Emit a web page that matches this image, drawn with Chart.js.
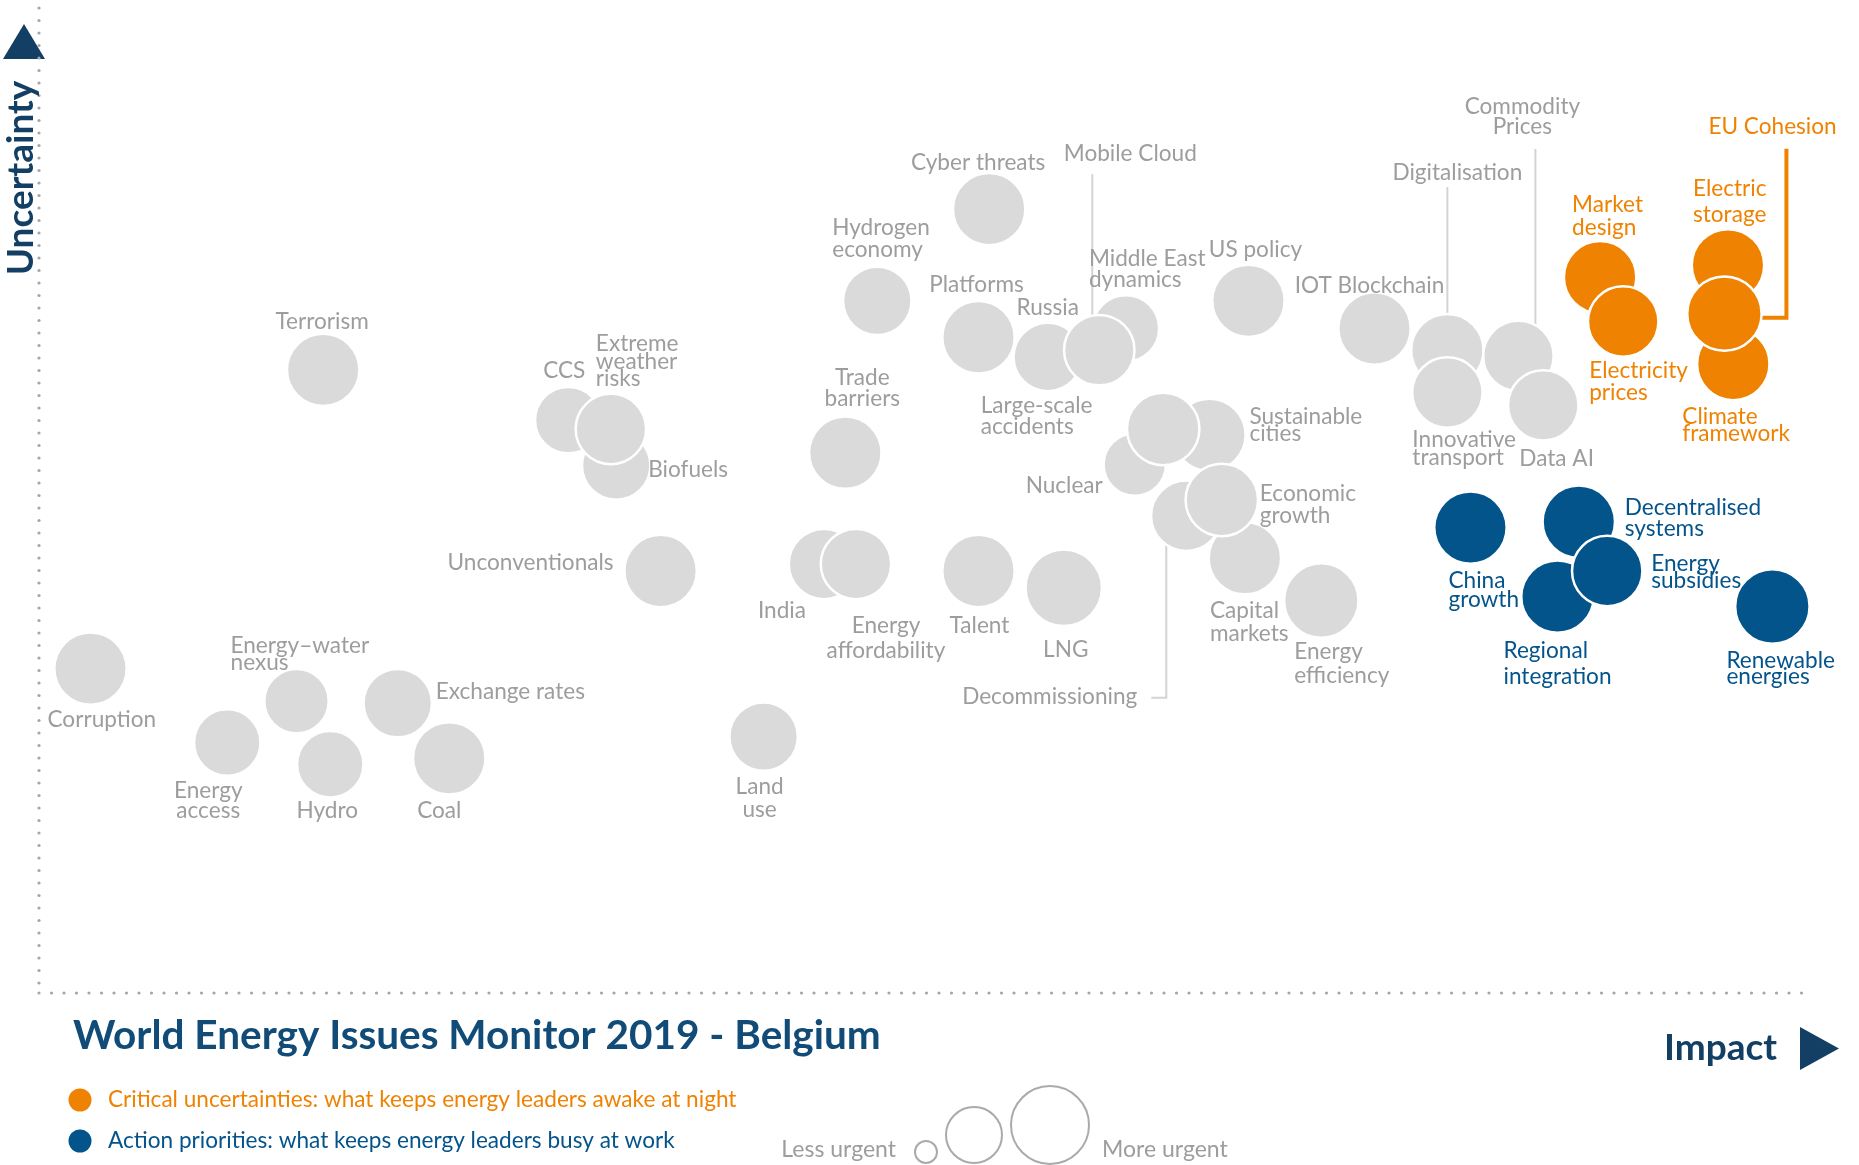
<!DOCTYPE html>
<html>
<head>
<meta charset="utf-8">
<script src="https://cdn.jsdelivr.net/npm/chart.js@4/dist/chart.umd.min.js"></script>
<style>
  html, body { margin: 0; padding: 0; background: #fff; overflow: hidden; }
  canvas { display: block; }
</style>
</head>
<body>
<canvas id="chart" width="1859" height="1165"></canvas>
<script>
// issues of the monitor, x = impact, y = uncertainty, size = urgency
const gray_issues = ['Corruption', 'Energy\naccess', 'Energy–water\nnexus', 'Hydro', 'Exchange rates', 'Coal',
    'Terrorism', 'CCS', 'Biofuels', 'Extreme\nweather\nrisks', 'Unconventionals', 'Land\nuse', 'India',
    'Energy\naffordability', 'Trade\nbarriers', 'Hydrogen\neconomy', 'Cyber threats', 'Talent', 'LNG',
    'Platforms', 'Russia', 'Large-scale\naccidents', 'Middle East\ndynamics', 'Mobile Cloud', 'US policy',
    'IOT Blockchain', 'Nuclear', 'Sustainable\ncities', '', 'Decommissioning', 'Capital\nmarkets',
    'Economic\ngrowth', 'Energy\nefficiency', 'Digitalisation', 'Innovative\ntransport', 'Commodity\nPrices',
    'Data AI'];
const gray_impact = [2.9, 10.6, 14.5, 16.4, 20.2, 23.1, 16.0, 29.8, 32.5, 32.2, 35.0, 40.8, 44.2, 46.0, 45.4,
    47.2, 53.5, 52.9, 57.7, 52.9, 56.8, 56.8, 61.2, 59.7, 68.1, 75.2, 61.7, 65.9, 63.3, 64.6, 67.9, 66.6, 72.2,
    79.3, 79.3, 83.3, 84.7];
const gray_uncertainty = [32.9, 25.4, 29.6, 23.2, 29.4, 23.8, 63.2, 58.1, 53.5, 57.2, 42.8, 26.0, 43.5, 43.5,
    54.8, 70.2, 79.5, 42.8, 41.1, 66.5, 64.5, 64.5, 67.4, 65.2, 70.2, 67.4, 53.6, 56.6, 57.2, 48.4, 44.1, 50.0,
    39.8, 65.2, 60.9, 64.6, 59.6];
const gray_urgency = [3.5, 3.2, 3.1, 3.2, 3.3, 3.5, 3.5, 3.2, 3.3, 3.4, 3.5, 3.3, 3.4, 3.4, 3.5, 3.3, 3.5, 3.5,
    3.7, 3.5, 3.3, 3.3, 3.2, 3.4, 3.5, 3.5, 3.0, 3.5, 3.5, 3.4, 3.5, 3.5, 3.6, 3.5, 3.4, 3.4, 3.4];

const critical_issues = ['Market\ndesign', 'Electricity\nprices', 'Electric\nstorage', 'Climate\nframework', 'EU Cohesion'];
const critical_impact = [87.9, 89.2, 95.1, 95.4, 94.9];
const critical_uncertainty = [72.6, 68.1, 73.8, 63.8, 68.9];
const critical_urgency = [3.5, 3.4, 3.5, 3.5, 3.6];

const action_issues = ['China\ngrowth', 'Decentralised\nsystems', 'Regional\nintegration', 'Energy\nsubsidies', 'Renewable\nenergies'];
const action_impact = [80.6, 86.7, 85.5, 88.3, 97.6];
const action_uncertainty = [47.2, 47.8, 40.2, 42.8, 39.2];
const action_urgency = [3.5, 3.5, 3.5, 3.4, 3.6];

const title_text = 'World Energy Issues Monitor 2019 - Belgium';
const legend_critical = 'Critical uncertainties: what keeps energy leaders awake at night';
const legend_action = 'Action priorities: what keeps energy leaders busy at work';

const GRAY = '#dadada';
const GRAY_TEXT = '#9d9d9d';
const ORANGE = '#ef8200';
const BLUE = '#04548c';
const NAVY = '#123f63';
const FONT = 'Lato, "Open Sans", sans-serif';

// label placement: [dx, dy, align, line height] from the bubble centre
const label_pos = {
    'Corruption': [-43, 51, 'left'],
    'Energy\naccess': [-19, 48, 'center', 20],
    'Energy–water\nnexus': [-66, -55, 'left', 17],
    'Hydro': [-3, 46, 'center'],
    'Exchange rates': [38, -11, 'left'],
    'Coal': [-10, 52, 'center'],
    'Terrorism': [-1, -48, 'center'],
    'CCS': [-4, -49, 'center'],
    'Biofuels': [32, 4, 'left'],
    'Extreme\nweather\nrisks': [-15, -85, 'left', 17.5],
    'Unconventionals': [-47, -8, 'right'],
    'Land\nuse': [-4, 50, 'center', 23],
    'India': [-42, 47, 'center'],
    'Energy\naffordability': [30, 62, 'center', 25],
    'Trade\nbarriers': [17, -75, 'center', 21],
    'Hydrogen\neconomy': [-45, -73, 'left', 22],
    'Cyber threats': [-11, -46, 'center'],
    'Talent': [1, 55, 'center'],
    'LNG': [2, 62, 'center'],
    'Platforms': [-2, -53, 'center'],
    'Russia': [0, -49, 'center'],
    'Large-scale\naccidents': [-67, 49, 'left', 21],
    'Middle East\ndynamics': [-37, -70, 'left', 21],
    'Mobile Cloud': [31, -196, 'center'],
    'US policy': [7, -51, 'center'],
    'IOT Blockchain': [-5, -43, 'center'],
    'Nuclear': [-32, 21, 'right'],
    'Sustainable\ncities': [40, -18, 'left', 17],
    'Decommissioning': [-49, 181, 'right'],
    'Capital\nmarkets': [-35, 53, 'left', 23],
    'Economic\ngrowth': [38, -6, 'left', 22],
    'Energy\nefficiency': [-27, 51, 'left', 24],
    'Digitalisation': [10, -177, 'center'],
    'Innovative\ntransport': [-35, 47, 'left', 18],
    'Commodity\nPrices': [4, -249, 'center', 20],
    'Data AI': [-24, 53, 'left'],
    'Market\ndesign': [-28, -72, 'left', 23],
    'Electricity\nprices': [-34, 49, 'left', 22],
    'Electric\nstorage': [-35, -77, 'left', 26],
    'Climate\nframework': [-51, 53, 'left', 17],
    'EU Cohesion': [-16, -187, 'left'],
    'China\ngrowth': [-22, 53, 'left', 19],
    'Decentralised\nsystems': [46, -14, 'left', 21],
    'Energy\nsubsidies': [44, -7, 'left', 17],
    'Regional\nintegration': [-54, 54, 'left', 26],
    'Renewable\nenergies': [-46, 54, 'left', 16],
};

// connector lines from a label to its bubble
const leader_lines = {
    'Mobile Cloud': [[-7, -176], [-7, -33]],
    'Digitalisation': [[0, -163], [0, -35]],
    'Commodity\nPrices': [[17, -207], [17, -31]],
    'Decommissioning': [[-20, 27], [-20, 182], [-35, 182]],
    'EU Cohesion': [[37, 4], [62, 4], [62, -165]],
};

const to_points = (impact, uncertainty, urgency) =>
    impact.map((x, i) => ({ x, y: uncertainty[i], r: urgency[i] * 10 + 1.2 }));

const make_dataset = (issues, impact, uncertainty, urgency, color, text_color) => ({
    label: issues.join(' / '),
    issues,
    text_color,
    data: to_points(impact, uncertainty, urgency),
    backgroundColor: color,
    borderColor: '#ffffff',
    borderWidth: 2.5,
    hoverRadius: 0,
});

const triangle = (ctx, pts, color) => {
    ctx.fillStyle = color;
    ctx.beginPath();
    ctx.moveTo(pts[0][0], pts[0][1]);
    pts.slice(1).forEach(p => ctx.lineTo(p[0], p[1]));
    ctx.closePath();
    ctx.fill();
};

const frame_plugin = {
    id: 'frame',
    beforeDatasetsDraw(chart) {
        const { ctx, chartArea: a } = chart;
        ctx.save();

        triangle(ctx, [[3, 59], [45, 59], [24, 24]], NAVY);

        // dotted axes
        ctx.fillStyle = '#a6a6a6';
        for (let y = a.top + 1; y <= a.bottom; y += 12.5) {
            ctx.beginPath(); ctx.arc(a.left, y, 1.6, 0, Math.PI * 2); ctx.fill();
        }
        for (let x = a.left; x <= a.right - 5; x += 12.5) {
            ctx.beginPath(); ctx.arc(x, a.bottom, 1.6, 0, Math.PI * 2); ctx.fill();
        }

        // leader lines, behind the bubbles
        chart.data.datasets.forEach((ds, di) => {
            const meta = chart.getDatasetMeta(di);
            ds.issues.forEach((name, i) => {
                const pts = leader_lines[name];
                if (!pts) return;
                const el = meta.data[i];
                ctx.strokeStyle = ds.text_color === ORANGE ? ORANGE : '#d3d3d3';
                ctx.lineWidth = ds.text_color === ORANGE ? 4 : 2;
                ctx.beginPath();
                ctx.moveTo(el.x + pts[0][0], el.y + pts[0][1]);
                pts.slice(1).forEach(p => ctx.lineTo(el.x + p[0], el.y + p[1]));
                ctx.stroke();
            });
        });
        ctx.restore();
    },
    afterDatasetsDraw(chart) {
        const { ctx } = chart;
        ctx.save();
        ctx.font = `22.6px ${FONT}`;
        ctx.textBaseline = 'middle';
        chart.data.datasets.forEach((ds, di) => {
            const meta = chart.getDatasetMeta(di);
            ctx.fillStyle = ds.text_color;
            ds.issues.forEach((name, i) => {
                const pos = label_pos[name];
                if (!pos) return;
                const [dx, dy, align, lh = 22] = pos;
                const el = meta.data[i];
                ctx.textAlign = align;
                name.split('\n').forEach((line, k) => ctx.fillText(line, el.x + dx, el.y + dy + k * lh));
            });
        });
        ctx.restore();
    },
    afterDraw(chart) {
        const { ctx } = chart;
        ctx.save();

        // axis names
        ctx.fillStyle = NAVY;
        ctx.font = `bold 37px ${FONT}`;
        ctx.textAlign = 'center';
        ctx.textBaseline = 'middle';
        ctx.translate(21, 178);
        ctx.rotate(-Math.PI / 2);
        ctx.fillText('Uncertainty', 0, 0);
        ctx.setTransform(1, 0, 0, 1, 0, 0);

        ctx.textAlign = 'left';
        ctx.textBaseline = 'alphabetic';
        ctx.fillText('Impact', 1664, 1060);
        triangle(ctx, [[1800, 1027], [1800, 1070], [1839, 1048.5]], NAVY);

        ctx.fillStyle = '#114b78';
        ctx.font = `bold 40.5px ${FONT}`;
        ctx.fillText(title_text, 73, 1049);

        // colour legend
        ctx.font = `22.6px ${FONT}`;
        ctx.textBaseline = 'middle';
        [[ORANGE, legend_critical, 1100], [BLUE, legend_action, 1141]].forEach(([c, t, y]) => {
            ctx.fillStyle = c;
            ctx.beginPath(); ctx.arc(80, y, 11.5, 0, Math.PI * 2); ctx.fill();
            ctx.fillText(t, 108, y);
        });

        // size legend
        ctx.fillStyle = GRAY_TEXT;
        ctx.font = `23px ${FONT}`;
        ctx.textAlign = 'right';
        ctx.fillText('Less urgent', 896, 1150);
        ctx.textAlign = 'left';
        ctx.fillText('More urgent', 1102, 1150);
        ctx.strokeStyle = '#aaaaaa';
        ctx.lineWidth = 2;
        [[926, 1152, 11], [974, 1135, 28], [1050, 1125, 39]].forEach(([x, y, r]) => {
            ctx.beginPath(); ctx.arc(x, y, r, 0, Math.PI * 2); ctx.stroke();
        });
        ctx.restore();
    },
};

const init_chart = () => {
    const ctx = document.getElementById('chart').getContext('2d');
    return new Chart(ctx, {
        type: 'bubble',
        data: {
            datasets: [
                make_dataset(gray_issues, gray_impact, gray_uncertainty, gray_urgency, GRAY, GRAY_TEXT),
                make_dataset(critical_issues, critical_impact, critical_uncertainty, critical_urgency, ORANGE, ORANGE),
                make_dataset(action_issues, action_impact, action_uncertainty, action_urgency, BLUE, BLUE),
            ],
        },
        options: {
            responsive: false,
            devicePixelRatio: 1,
            animation: false,
            events: [],
            layout: { autoPadding: false, padding: { left: 39, right: 44, top: 7, bottom: 172 } },
            scales: {
                x: { type: 'linear', min: 0, max: 100, display: false },
                y: { type: 'linear', min: 0, max: 100, display: false },
            },
            plugins: {
                legend: { display: false },
                tooltip: { enabled: false },
            },
        },
        plugins: [frame_plugin],
    });
};

init_chart();
</script>
</body>
</html>
